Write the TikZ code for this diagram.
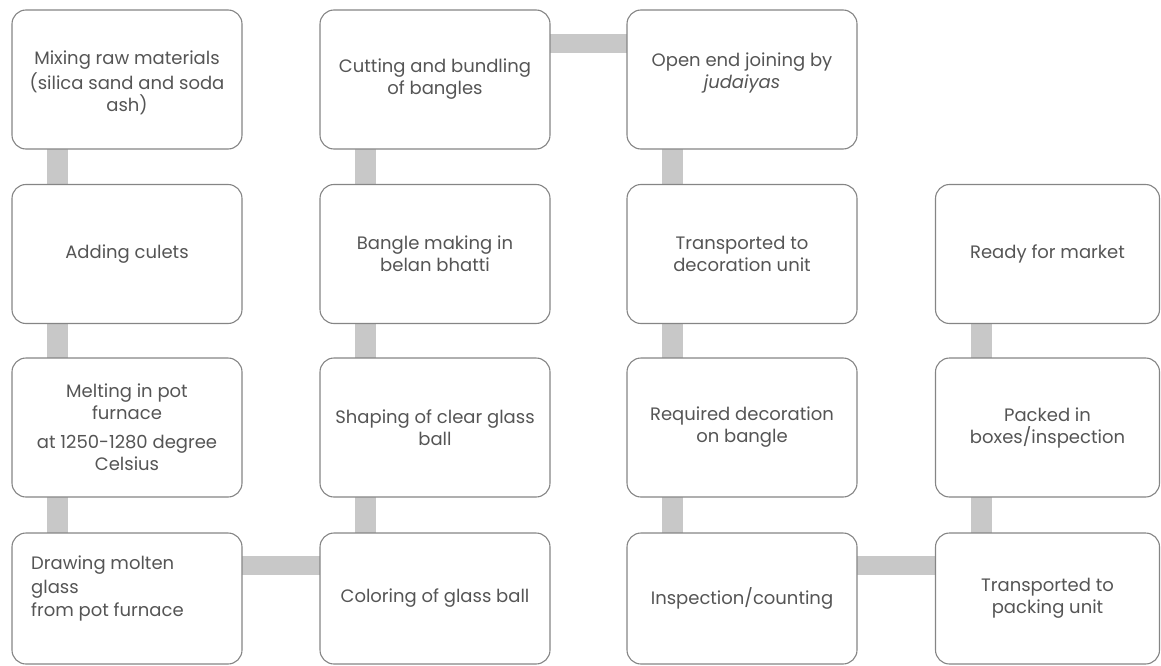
\documentclass[tikz,border=0pt]{standalone}
\usepackage{fontspec}
\setmainfont{Poppins}
\usetikzlibrary{calc,backgrounds}
\definecolor{boxline}{HTML}{858585}
\definecolor{txt}{HTML}{555555}
\definecolor{link}{HTML}{C8C8C8}
\tikzset{
  stage/.style={draw=boxline, line width=1.1pt, fill=white, rounded corners=14pt,
    minimum width=230pt, minimum height=139pt, inner sep=0pt,
    text=txt, align=center, font=\fontsize{18}{22}\selectfont},
  caption/.style={text=txt, inner sep=0pt, font=\fontsize{18}{22}\selectfont},
  vlink/.style={draw=link, line width=21pt},
  hlink/.style={draw=link, line width=19pt},
}
\begin{document}
\begin{tikzpicture}[x=1pt,y=-1pt]
\useasboundingbox (0,0) rectangle (1161,666);
% column 1
\node[stage] (mix) at (127,79.5) {};
\node[caption, align=center] (mixt) at (127,83)
      {Mixing raw materials\\[3pt](silica sand and soda\\ash)};
\node[stage] (cul) at (127,254) {Adding culets};
\node[stage] (melt) at (127,427.5) {Melting in pot\\furnace\\[7pt]at 1250-1280 degree\\Celsius};
\node[stage, minimum height=131pt] (drw) at (127,598.5) {};
\node[caption, align=left, anchor=north west,
      font=\fontsize{18}{23.5}\selectfont] (drwt) at (31,556)
      {Drawing molten\\glass\\from pot furnace};
% column 2
\node[stage] (cut) at (435,79.5) {Cutting and bundling\\of bangles};
\node[stage] (bel) at (435,254) {Bangle making in\\belan bhatti};
\node[stage] (shp) at (435,427.5) {Shaping of clear glass\\ball};
\node[stage, minimum height=131pt] (col) at (435,598.5) {Coloring of glass ball};
% column 3
\node[stage] (opn) at (742,79.5) {};
\node[caption, align=center] (opnt) at (742,73)
      {Open end joining by\\\textit{judaiyas}};
\node[stage] (trd) at (742,254) {Transported to\\decoration unit};
\node[stage] (dec) at (742,427.5) {Required decoration\\on bangle};
\node[stage, minimum height=131pt] (ins) at (742,598.5) {Inspection/counting};
% column 4
\node[stage, minimum width=224pt] (rdy) at (1047.5,254) {Ready for market};
\node[stage, minimum width=224pt] (pck) at (1047.5,427.5) {Packed in\\boxes/inspection};
\node[stage, minimum width=224pt, minimum height=131pt] (trp) at (1047.5,598.5) {Transported to\\packing unit};
% connecting bars behind the boxes
\begin{scope}[on background layer]
  \foreach \a/\b in {mix/cul, cul/melt, melt/drw, col/shp, shp/bel, bel/cut,
                     opn/trd, trd/dec, dec/ins, trp/pck, pck/rdy}{
    \draw[vlink] ($(\a.center-|\a.west)+(46.5,0)$) -- ($(\b.center-|\b.west)+(46.5,0)$);
  }
  \draw[hlink] ($(cut.north)+(0,34)$) -- ($(opn.north)+(0,34)$);
  \draw[hlink] ($(drw.north)+(0,33)$) -- ($(col.north)+(0,33)$);
  \draw[hlink] ($(ins.north)+(0,33)$) -- ($(trp.north)+(0,33)$);
\end{scope}
\end{tikzpicture}
\end{document}
